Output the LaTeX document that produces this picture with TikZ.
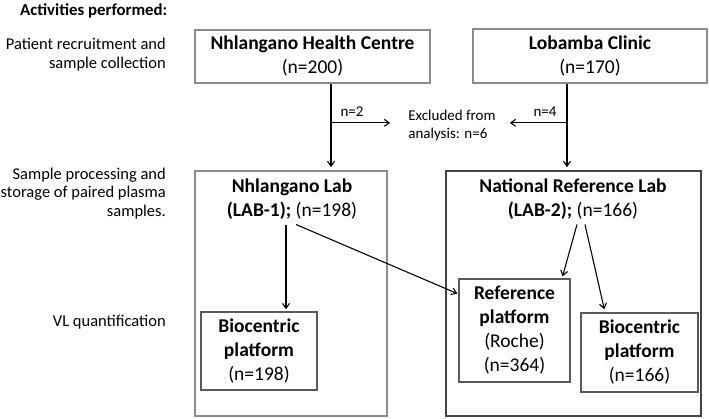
\documentclass[tikz,border=0pt]{standalone}
\usepackage{fontspec}
\setmainfont{Carlito}
\usetikzlibrary{arrows.meta}
\definecolor{lightborder}{HTML}{8C8C8C}
\definecolor{darkborder}{HTML}{454545}
\definecolor{innerborder}{HTML}{5A5A5A}
\begin{document}
\begin{tikzpicture}[x=1pt,y=-1pt,
  boxtext/.style={align=center, inner sep=0pt, font=\fontsize{19.5}{24}\selectfont},
  topbox/.style={boxtext, draw=lightborder, line width=1.7pt},
  platbox/.style={boxtext, draw=innerborder, line width=1.4pt},
  labbox/.style={draw, line width=1.7pt, inner sep=0pt},
  sidelabel/.style={align=right, anchor=east, inner sep=0pt, font=\fontsize{16.5}{19}\selectfont},
  smalltext/.style={inner sep=0pt, font=\fontsize{15}{18}\selectfont},
  conn/.style={line width=1.1pt, -{Straight Barb[length=5pt,width=7pt]}}
]
\useasboundingbox (0,0) rectangle (709,419);

% headings / activity labels
\node[anchor=west, inner sep=0pt, font=\fontsize{16.8}{20}\selectfont\bfseries] (act) at (20,11) {Activities performed:};
\node[sidelabel] (s1) at (166,55) {Patient recruitment and\\sample collection};
\node[sidelabel, font=\fontsize{16.5}{18.5}\selectfont] (s2) at (166,193.5) {Sample processing and\\storage of paired plasma\\samples.};
\node[sidelabel] (s3) at (166,322) {VL quantification};

% top boxes
\node[topbox, minimum width=235pt, minimum height=53pt] (hc) at (312.5,56.5) {\textbf{Nhlangano Health Centre}\\(n=200)};
\node[topbox, minimum width=234pt, minimum height=54pt] (lc) at (590,56) {\textbf{Lobamba Clinic}\\(n=170)};

% lab boxes
\node[labbox, draw=lightborder, minimum width=192pt, minimum height=245pt] (lab1) at (291,293.5) {};
\node[labbox, draw=darkborder, minimum width=255pt, minimum height=245pt] (lab2) at (573.5,293.5) {};
\node[boxtext] (lab1t) at (292,199) {\textbf{Nhlangano Lab}\\\textbf{(LAB-1);} (n=198)};
\node[boxtext] (lab2t) at (573,199) {\textbf{National Reference Lab}\\\textbf{(LAB-2);} (n=166)};

% platform boxes
\node[platbox, minimum width=116pt, minimum height=78pt] (bio1) at (259,351) {\textbf{Biocentric}\\\textbf{platform}\\(n=198)};
\node[platbox, minimum width=111pt, minimum height=103pt] (ref) at (514.5,330.5) {\textbf{Reference}\\\textbf{platform}\\(Roche)\\(n=364)};
\node[platbox, minimum width=117pt, minimum height=79pt] (bio2) at (639.5,352.5) {\textbf{Biocentric}\\\textbf{platform}\\(n=166)};

% exclusion
\node[smalltext, align=left] (ex) at (452,126) {Excluded from\\analysis: n=6};
\node[smalltext] (n2) at (352,112) {n=2};
\node[smalltext] (n4) at (545,112) {n=4};

% connectors from sites to labs
\draw[conn, shorten >=3pt] ([xshift=18.5pt]hc.south) -- ([xshift=40pt]lab1.north);
\draw[conn, shorten >=3pt] ([xshift=-23pt]lc.south) -- ([xshift=-6.5pt]lab2.north);
\coordinate (j1) at ([xshift=18.5pt,yshift=-39pt]hc.south);
\coordinate (j2) at ([xshift=-23pt,yshift=-39pt]lc.south);
\draw[conn] (j1) -- ([xshift=-18pt]ex.west |- j1);
\draw[conn] (j2) -- ([xshift=14pt]ex.east |- j2);

% lab to platforms
\draw[conn, shorten >=2pt] ([xshift=-6pt,yshift=-5pt]lab1t.south) -- ([xshift=27pt]bio1.north);
\draw[conn, shorten >=1pt] ([xshift=4pt,yshift=-5pt]lab1t.south) -- ([yshift=36.5pt]ref.west);
\draw[conn, shorten >=2pt] ([xshift=4pt,yshift=-5pt]lab2t.south) -- ([xshift=47.5pt]ref.north);
\draw[conn, shorten >=3pt] ([xshift=12pt,yshift=-5pt]lab2t.south) -- ([xshift=-34.5pt]bio2.north);
\end{tikzpicture}
\end{document}
